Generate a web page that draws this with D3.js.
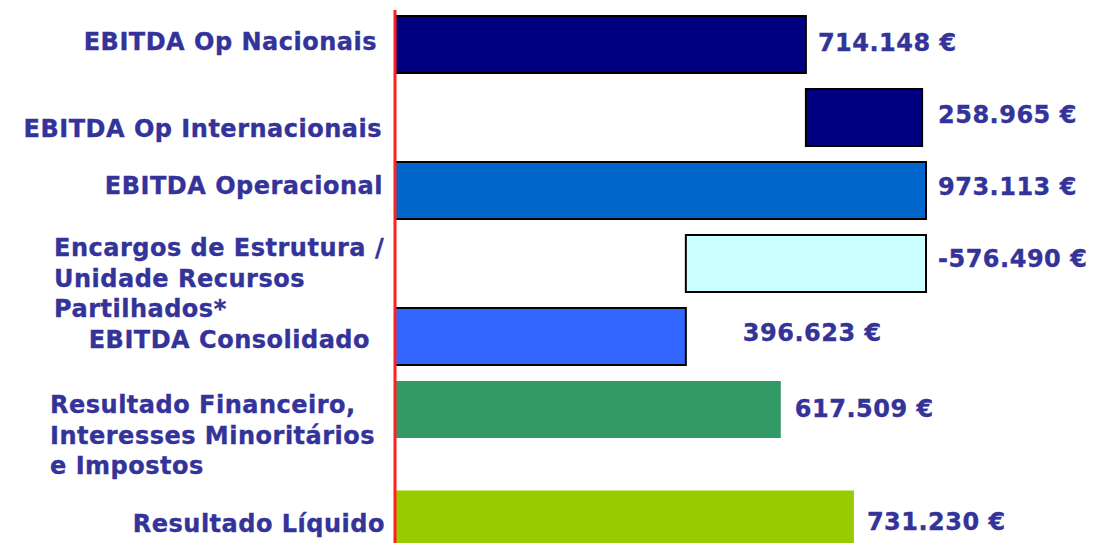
<!DOCTYPE html>
<html>
<head>
<meta charset="utf-8">
<script src="https://cdn.jsdelivr.net/npm/d3@7"></script>
<style>
  html, body { margin: 0; padding: 0; background: #fff; }
  svg { display: block; }
  text { font-family: "DejaVu Sans", Verdana, sans-serif; font-weight: bold; fill: #333399; stroke: #333399; stroke-width: 0.35px; font-size: 24px; letter-spacing: 0.5px; }
</style>
</head>
<body>
<svg id="chart" width="1098" height="543"></svg>
<script>
// ---- data (thousand €) ----
const categories = [
  ["EBITDA Op Nacionais"],
  ["EBITDA Op Internacionais"],
  ["EBITDA Operacional"],
  ["Encargos de Estrutura /", "Unidade Recursos", "Partilhados*"],
  ["EBITDA Consolidado"],
  ["Resultado Financeiro,", "Interesses Minoritários", "e Impostos"],
  ["Resultado Líquido"]
];
const valueLabels = ["714.148 €", "258.965 €", "973.113 €", "-576.490 €", "396.623 €", "617.509 €", "731.230 €"];
// bar extents as drawn in the picture (thousand €)
const barStart = [0, 753, 0, 533, 0, 0, 0];
const barEnd   = [753, 966, 973.113, 973.113, 533, 707, 841];
const fills = ["#000080", "#000080", "#0066CC", "#CCFFFF", "#3366FF", "#339966", "#99CC00"];
const outlined = [true, true, true, true, true, false, false];

// ---- layout ----
const svg = d3.select("#chart");
const x = d3.scaleLinear().domain([0, 973.113]).range([395, 926]);
const row = d3.scaleLinear().domain([0, 1]).range([16, 89]);
const rowIndex = i => (i < 6 ? i : 6.5);
const barH = 57;

const rows = categories.map((c, i) => ({
  lines: c, label: valueLabels[i], s: barStart[i], e: barEnd[i],
  fill: fills[i], outlined: outlined[i], i
}));

// bars
svg.selectAll("rect.bar").data(rows).join("rect")
  .attr("class", "bar")
  .attr("x", d => x(d.s))
  .attr("y", d => row(rowIndex(d.i)))
  .attr("width", d => x(d.e) - x(d.s))
  .attr("height", barH)
  .attr("fill", d => d.fill)
  .attr("stroke", d => d.outlined ? "#000" : "none")
  .attr("stroke-width", 2);

// red axis line
svg.append("line")
  .attr("x1", x(0)).attr("x2", x(0))
  .attr("y1", 10).attr("y2", 543)
  .attr("stroke", "#FF2020").attr("stroke-width", 3);

// value labels
const valDx = [12, 12, 12, 12, 57, 14, 13];
const valDy = [35, 34, 33, 32, 33, 36, 39];
svg.selectAll("text.val").data(rows).join("text")
  .attr("class", "val")
  .attr("x", d => x(d.i === 1 ? barEnd[2] : d.e) + valDx[d.i])
  .attr("y", d => row(rowIndex(d.i)) + valDy[d.i])
  .text(d => d.label);

// category labels
const catLayout = [
  { anchor: "end",   x: 377, y: 50 },
  { anchor: "end",   x: 382, y: 137 },
  { anchor: "end",   x: 383, y: 194 },
  { anchor: "start", x: 54,  y: 256 },
  { anchor: "end",   x: 370, y: 348 },
  { anchor: "start", x: 50,  y: 413 },
  { anchor: "end",   x: 385, y: 532 }
];
const lineH = 30.5;
rows.forEach(d => {
  const L = catLayout[d.i];
  const t = svg.append("text")
    .attr("text-anchor", L.anchor);
  d.lines.forEach((ln, j) => {
    t.append("tspan").attr("x", L.x).attr("y", L.y + j * lineH).text(ln);
  });
});
</script>
</body>
</html>
